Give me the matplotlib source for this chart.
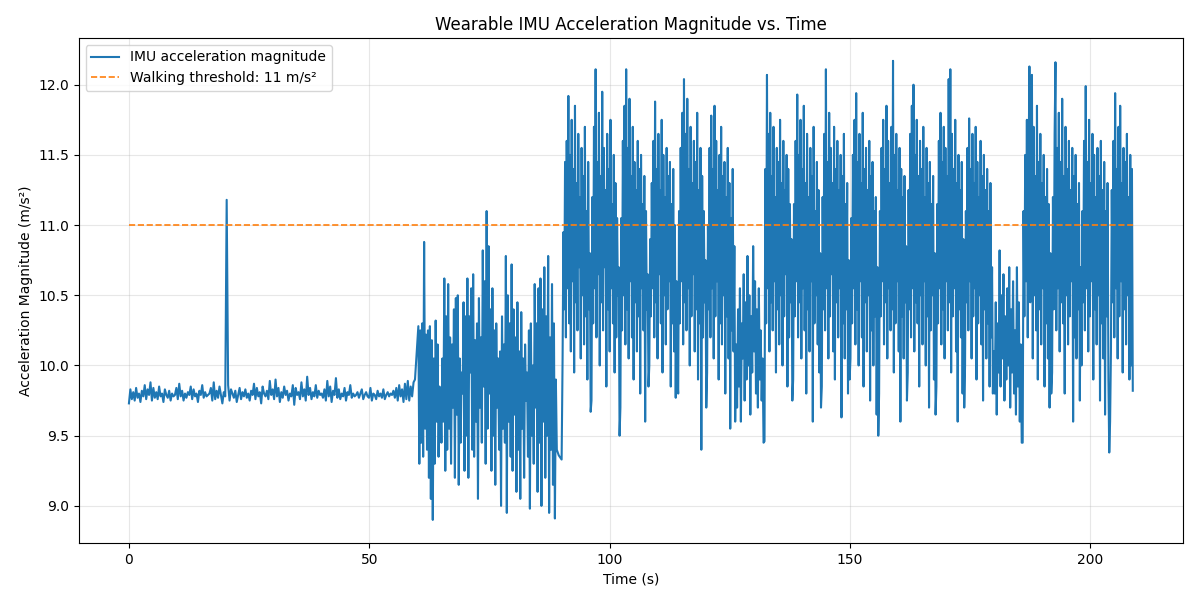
import numpy as np
import matplotlib
matplotlib.use("Agg")
import matplotlib.pyplot as plt

# standing still, with one bump near t = 20 s
rest_vals = [
    9.73, 9.83, 9.76, 9.81, 9.75, 9.84, 9.77, 9.80, 9.74, 9.82, 9.78, 9.86, 9.76, 9.83, 9.79, 9.88, 9.75, 9.84, 9.77, 9.81,
    9.76, 9.85, 9.78, 9.80, 9.74, 9.83, 9.79, 9.77, 9.82, 9.75, 9.80, 9.78, 9.79, 9.84, 9.76, 9.87, 9.78, 9.82, 9.75, 9.80,
    9.77, 9.81, 9.79, 9.85, 9.76, 9.83, 9.78, 9.80, 9.74, 9.82, 9.79, 9.86, 9.77, 9.81, 9.78, 9.79, 9.80, 9.84, 9.75, 9.88,
    9.76, 9.82, 9.77, 9.85, 9.79, 9.73, 9.81, 9.78, 11.18, 9.86, 9.75, 9.83, 9.80, 9.77, 9.82, 9.74, 9.79, 9.84, 9.76, 9.81,
    9.78, 9.83, 9.77, 9.80, 9.75, 9.82, 9.79, 9.87, 9.76, 9.84, 9.78, 9.81, 9.73, 9.85, 9.80, 9.78, 9.82, 9.76, 9.89, 9.79,
    9.83, 9.76, 9.90, 9.78, 9.84, 9.74, 9.81, 9.77, 9.85, 9.79, 9.82, 9.75, 9.80, 9.78, 9.86, 9.72, 9.84, 9.79, 9.81, 9.76,
    9.88, 9.78, 9.83, 9.75, 9.92, 9.79, 9.84, 9.76, 9.81, 9.78, 9.86, 9.77, 9.82, 9.79, 9.80, 9.77, 9.83, 9.75, 9.89, 9.78,
    9.85, 9.74, 9.82, 9.79, 9.91, 9.77, 9.83, 9.76, 9.80, 9.78, 9.84, 9.75, 9.81, 9.79, 9.86, 9.77, 9.80, 9.78, 9.79, 9.81,
    9.77, 9.80, 9.83, 9.76, 9.79, 9.81, 9.78, 9.77, 9.84, 9.75, 9.80, 9.79, 9.76, 9.82, 9.78, 9.80, 9.77, 9.83, 9.76, 9.79,
    9.81, 9.78, 9.80, 9.79, 9.82, 9.77, 9.84, 9.75, 9.86, 9.78, 9.83, 9.74, 9.87, 9.76, 9.89, 9.75, 9.85, 9.78, 9.88, 9.90,
]

# slow / irregular movement
moderate_vals = [
    10.28, 9.30, 10.25, 9.45, 10.30, 9.35, 10.88, 9.55, 10.22, 9.40,
    10.25, 9.20, 10.28, 9.05, 10.18, 8.90, 10.05, 9.30, 10.32, 9.60,
    10.15, 9.35, 9.85, 9.75, 9.45, 10.05, 9.60, 10.62, 9.25, 10.35,
    9.40, 10.58, 9.55, 10.20, 9.30, 10.15, 9.70, 10.40, 9.20, 10.48,
    9.65, 10.50, 9.15, 10.05, 9.45, 9.95, 9.80, 10.45, 9.25, 10.35,
    9.50, 10.62, 9.20, 10.35, 9.95, 10.55, 9.40, 10.65, 9.35, 10.18,
    9.60, 10.30, 9.05, 10.48, 9.70, 10.20, 9.45, 10.82, 9.85, 10.60,
    9.30, 11.10, 9.55, 10.85, 9.80, 10.40, 9.25, 10.55, 9.50, 10.25,
    9.15, 10.30, 9.70, 10.05, 9.40, 10.10, 9.00, 10.35, 9.55, 10.15,
    9.45, 10.78, 8.95, 10.50, 9.60, 10.30, 9.35, 10.72, 9.25, 10.40,
    9.65, 10.20, 9.10, 10.45, 9.40, 10.10, 9.05, 10.38, 9.55, 10.05,
    9.20, 10.15, 9.75, 9.95, 9.35, 10.25, 8.98, 10.30, 9.50, 10.00,
    9.30, 10.58, 9.70, 10.30, 9.10, 10.55, 9.45, 10.62, 9.00, 10.40,
    9.60, 10.70, 9.20, 10.35, 9.50, 10.78, 8.95, 10.20, 9.40, 10.58,
    9.15, 10.30, 8.91, 9.90, 9.40, 9.38, 9.36, 9.35, 9.34, 9.33,
]

# walking bout 1
walk1_vals = [
    10.05, 10.95, 10.40, 11.45, 10.20, 11.60, 10.55, 11.92, 10.30, 11.50, 10.10, 11.75, 10.60, 11.40, 9.95, 11.85, 10.45, 11.30,
    10.25, 11.65, 10.70, 11.20, 10.05, 11.55, 10.50, 11.35, 10.15, 11.70, 10.35, 11.10, 9.90, 11.45, 10.40, 10.80, 9.67,
    9.75, 11.20, 10.30, 11.70, 10.55, 12.11, 10.20, 11.45, 10.65, 11.80, 10.00, 11.35, 10.45, 11.95, 10.25, 11.55, 10.70, 11.25,
    9.85, 11.65, 10.40, 11.40, 10.10, 11.75, 10.55, 11.15, 10.30, 11.50, 9.95, 11.30, 10.20, 11.05, 10.50, 10.70, 9.50,
    9.70, 11.05, 10.25, 11.60, 10.50, 11.85, 10.15, 12.11, 10.40, 11.55, 10.05, 11.90, 10.60, 11.35, 10.20, 11.70, 9.90, 11.45,
    10.45, 11.25, 10.10, 11.60, 10.35, 11.40, 9.80, 11.50, 10.55, 11.15, 10.25, 11.35, 9.60, 11.10, 10.40, 10.65, 9.85,
    10.00, 10.90, 10.35, 11.30, 10.55, 11.60, 10.20, 11.88, 10.45, 11.40, 10.05, 11.65, 10.65, 11.25, 10.30, 11.75, 9.95, 11.50,
    10.50, 11.20, 10.15, 11.55, 10.40, 11.35, 10.60, 11.45, 9.85, 11.15, 10.30, 11.40, 10.10, 11.00, 9.77, 10.60, 9.90,
    9.80, 11.10, 10.30, 11.55, 10.60, 11.80, 10.15, 12.04, 10.45, 11.65, 10.25, 11.90, 10.55, 11.40, 10.00, 11.70, 10.35, 11.30,
    10.65, 11.60, 10.10, 11.45, 10.40, 11.80, 9.90, 11.25, 10.30, 11.55, 9.40, 11.35, 10.20, 11.10, 10.45, 10.75, 9.70,
    9.95, 11.00, 10.40, 11.55, 10.20, 11.78, 10.55, 11.40, 10.05, 11.85, 10.35, 11.60, 10.60, 11.25, 9.90, 11.50, 10.30, 11.70,
    10.15, 11.35, 10.50, 11.45, 9.80, 11.20, 10.35, 11.55, 10.05, 11.30, 9.55, 11.05, 10.25, 11.40, 10.10, 10.85, 9.60,
]

trans1_vals = [
    10.15, 9.70, 10.40, 9.85, 10.55, 9.60, 10.30, 10.05, 10.65, 9.75, 10.45, 9.90, 10.78, 10.00, 10.50,
    9.65, 10.35, 9.95, 10.85, 10.10, 10.60, 9.80, 10.40, 9.70, 10.55, 9.90, 10.25, 9.75, 10.05, 9.45,
]

# walking bout 2
walk2_vals = [
    9.46, 11.40, 10.30, 12.07, 10.55, 11.65, 10.10, 11.80, 10.45, 11.35, 10.25, 11.70, 10.60, 11.20, 9.95, 11.55, 10.40, 11.45,
    10.15, 11.75, 10.50, 11.30, 10.00, 11.60, 10.35, 11.25, 10.65, 11.50, 9.85, 11.40, 10.20, 11.15, 10.45, 10.90, 9.75,
    9.90, 11.15, 10.35, 11.60, 10.60, 11.93, 10.20, 11.50, 10.45, 11.75, 10.05, 11.40, 10.55, 11.85, 10.25, 11.30, 9.80, 11.65,
    10.40, 11.20, 10.10, 11.55, 10.60, 11.35, 9.60, 11.70, 10.30, 11.10, 10.50, 11.45, 10.15, 11.25, 9.95, 10.80, 9.70,
    9.85, 11.20, 10.40, 11.65, 10.25, 12.11, 10.55, 11.45, 10.05, 11.80, 10.35, 11.55, 10.65, 11.30, 10.10, 11.70, 9.90, 11.40,
    10.45, 11.60, 10.20, 11.25, 10.55, 11.50, 9.63, 11.35, 10.30, 11.65, 10.05, 11.15, 10.40, 11.30, 9.80, 10.75, 9.90,
    10.05, 11.05, 10.30, 11.50, 10.55, 11.75, 10.15, 11.94, 10.40, 11.45, 10.00, 11.65, 10.60, 11.30, 10.20, 11.80, 9.85, 11.40,
    10.45, 11.55, 10.10, 11.25, 10.50, 11.60, 9.75, 11.35, 10.25, 11.45, 10.00, 11.10, 10.35, 11.20, 9.65, 10.70, 9.50,
    9.80, 11.10, 10.35, 11.55, 10.60, 11.75, 10.15, 11.40, 10.45, 11.85, 10.05, 11.60, 10.55, 11.30, 10.25, 11.70, 10.40, 12.17,
    9.95, 11.50, 10.30, 11.65, 10.60, 11.25, 10.10, 11.55, 9.60, 11.40, 10.35, 11.20, 10.05, 11.35, 10.45, 10.85, 9.75,
    9.95, 11.25, 10.40, 11.65, 10.20, 11.85, 10.55, 12.00, 10.10, 11.50, 10.45, 11.75, 10.30, 11.35, 9.85, 11.60, 10.50, 11.40,
    10.15, 11.70, 10.60, 11.20, 10.00, 11.55, 10.35, 11.30, 9.70, 11.45, 10.25, 11.15, 10.50, 11.35, 9.90, 10.80, 9.65,
    9.85, 11.15, 10.30, 11.60, 10.55, 11.80, 10.15, 11.45, 10.40, 11.70, 10.05, 11.55, 10.60, 11.35, 10.25, 12.04, 10.45, 12.11,
    9.95, 11.65, 10.35, 11.40, 10.55, 11.75, 10.10, 11.30, 9.60, 11.50, 10.40, 11.25, 10.20, 11.45, 9.80, 10.90, 9.70,
    10.00, 11.10, 10.45, 11.55, 10.25, 11.76, 10.60, 11.40, 10.05, 11.65, 10.35, 11.30, 10.55, 11.70, 9.90, 11.45, 10.30, 11.20,
    10.50, 11.60, 10.15, 11.35, 9.75, 11.50, 10.40, 11.25, 10.05, 11.40, 10.30, 11.10, 9.85, 11.30, 10.20, 10.70, 9.80,
]

trans2_vals = [
    10.10, 9.80, 10.45, 9.65, 10.30, 9.95, 10.82, 9.85, 10.50, 10.05, 10.65, 9.75, 10.35, 9.90, 10.55,
    10.00, 10.70, 9.70, 10.40, 9.95, 10.60, 9.80, 10.25, 9.65, 10.70, 9.85, 10.45, 9.60, 10.15, 9.45,
]

# walking bout 3
walk3_vals = [
    9.45, 11.10, 10.35, 11.50, 10.60, 11.75, 10.20, 11.40, 12.13, 10.45, 11.60, 12.07, 10.05, 11.70, 10.50, 11.35, 10.25, 11.85,
    9.90, 11.45, 10.40, 11.65, 10.15, 11.30, 10.55, 11.50, 9.85, 11.20, 10.30, 11.40, 10.05, 11.15, 9.70, 10.80, 9.80,
    9.95, 11.20, 10.40, 11.65, 12.16, 10.25, 11.55, 10.55, 11.80, 10.10, 11.45, 10.45, 11.90, 10.30, 11.35, 9.80, 11.70, 10.50,
    11.40, 10.15, 11.60, 10.35, 11.25, 10.60, 11.55, 9.60, 11.35, 10.20, 11.50, 10.05, 11.15, 10.40, 11.30, 9.75, 10.70,
    10.00, 11.10, 10.45, 11.60, 10.25, 11.99, 10.55, 11.45, 10.10, 11.75, 10.35, 11.30, 10.60, 11.65, 9.90, 11.50, 10.40, 11.20,
    10.15, 11.55, 10.50, 11.35, 9.75, 11.60, 10.30, 11.25, 10.05, 11.45, 9.65, 11.10, 10.35, 11.30, 9.90, 9.38, 9.60,
    10.10, 11.25, 10.45, 11.60, 10.20, 11.94, 10.55, 11.40, 10.05, 11.70, 10.35, 11.85, 10.60, 11.30,
    9.95, 11.55, 10.40, 11.45, 10.15, 11.65, 10.50, 11.20, 9.90, 11.50, 10.00, 11.40, 9.82,
]

# start / end time (s) of each recorded segment
segments = [
    (rest_vals, 0.0, 59.5),
    (moderate_vals, 60.2, 90.0),
    (walk1_vals, 90.2, 126.1),
    (trans1_vals, 126.3, 132.0),
    (walk2_vals, 132.2, 179.7),
    (trans2_vals, 179.9, 185.7),
    (walk3_vals, 185.9, 208.8),
]

threshold = 11

t = np.concatenate([np.linspace(a, b, len(v)) for v, a, b in segments])
acc = np.concatenate([np.array(v) for v, a, b in segments])

fig, ax = plt.subplots(figsize=(11.93, 5.92), dpi=100)
fig.subplots_adjust(left=0.066, right=0.9916, bottom=0.083, top=0.936)

ax.plot(t, acc, color="tab:blue", linewidth=1.5, label="IMU acceleration magnitude")
ax.hlines(threshold, t[0], t[-1], colors="tab:orange", linestyles="--", linewidth=1.2,
          label=f"Walking threshold: {threshold} m/s²")

ax.set_title("Wearable IMU Acceleration Magnitude vs. Time", fontsize=12)
ax.set_xlabel("Time (s)")
ax.set_ylabel("Acceleration Magnitude (m/s²)")
ax.grid(True, alpha=0.3)
ax.legend(loc="upper left")

fig.savefig("out.png", dpi=100)
